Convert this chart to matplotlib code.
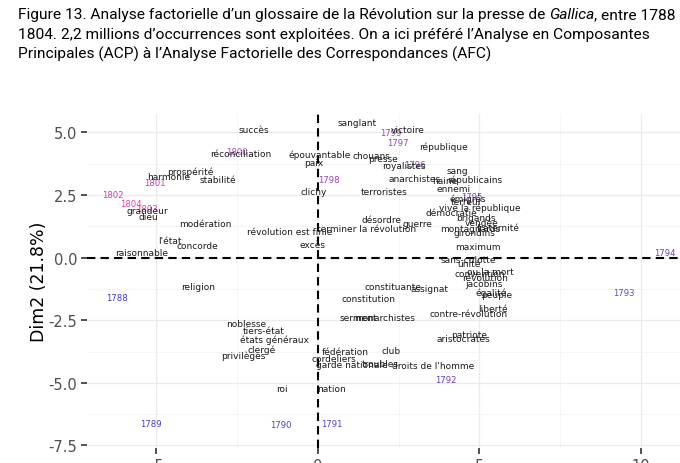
import numpy as np
import matplotlib
matplotlib.use("Agg")
import matplotlib.pyplot as plt
from matplotlib.colors import LinearSegmentedColormap

# mots du glossaire (coordonnees sur Dim1 / Dim2)
words = ["succès", "réconciliation", "épouvantable", "paix", "prospérité", "harmonie",
         "stabilité", "clichy", "grandeur", "dieu", "modération", "révolution est finie",
         "l'état", "concorde", "raisonnable", "excès", "sanglant", "victoire", "république",
         "chouans", "presse", "royalistes", "sang", "anarchistes", "haine", "républicains",
         "terroristes", "ennemi", "émigrés", "terreur", "vive la république", "démocratie",
         "brigands", "vendée", "fraternité", "montagnards", "girondins", "désordre", "guerre",
         "terminer la révolution", "maximum", "sans-culotte", "unité", "ou la mort",
         "convention", "révolution", "jacobins", "égalité", "peuple", "constituante",
         "assignat", "constitution", "liberté", "contre-révolution", "serment", "monarchistes",
         "patriote", "aristocrates", "fédération", "club", "cordeliers", "garde nationale",
         "troubles", "droits de l'homme", "nation", "religion", "noblesse", "tiers-état",
         "états généraux", "clergé", "privilèges", "roi"]
word_x = [-1.98, -2.39, 0.06, -0.12, -3.96, -4.62,
          -3.09, -0.12, -5.28, -5.25, -3.50, -0.88,
          -4.58, -3.72, -5.46, -0.17, 1.20, 2.77, 3.88,
          1.66, 2.00, 2.67, 4.31, 3.00, 3.94, 4.86,
          2.04, 4.21, 4.65, 4.60, 5.02, 4.14,
          4.88, 5.07, 5.58, 4.71, 4.86, 1.97, 3.07,
          1.51, 4.96, 4.65, 4.68, 5.35,
          5.02, 5.17, 5.14, 5.37, 5.53, 2.33,
          3.45, 1.56, 5.43, 4.65, 1.25, 2.07,
          4.68, 4.50, 0.86, 2.26, 0.50, 1.05,
          1.92, 3.57, 0.42, -3.71, -2.23, -1.69,
          -1.36, -1.74, -2.31, -1.12]
word_y = [5.10, 4.17, 4.14, 3.81, 3.43, 3.23,
          3.10, 2.63, 1.86, 1.64, 1.36, 1.04,
          0.68, 0.48, 0.22, 0.52, 5.40, 5.11, 4.44,
          4.07, 3.97, 3.67, 3.49, 3.15, 3.07, 3.14,
          2.63, 2.74, 2.37, 2.24, 2.00, 1.81,
          1.60, 1.41, 1.21, 1.15, 0.99, 1.50, 1.37,
          1.17, 0.44, -0.08, -0.25, -0.54,
          -0.65, -0.78, -1.02, -1.38, -1.49, -1.14,
          -1.25, -1.62, -2.05, -2.23, -2.41, -2.41,
          -3.08, -3.24, -3.74, -3.71, -4.04, -4.25,
          -4.24, -4.31, -5.24, -1.14, -2.62, -2.92,
          -3.24, -3.64, -3.88, -5.24]

# annees
years = [1788, 1789, 1790, 1791, 1792, 1793, 1794, 1795, 1796,
         1797, 1798, 1799, 1800, 1801, 1802, 1803, 1804]
year_x = [-6.21, -5.18, -1.15, 0.42, 3.95, 9.48, 10.74, 4.76, 3.00,
          2.49, 0.35, 2.25, -2.52, -5.05, -6.34, -5.30, -5.80]
year_y = [-1.60, -6.61, -6.66, -6.61, -4.87, -1.41, 0.19, 2.42, 3.70,
          4.58, 3.10, 4.98, 4.25, 2.98, 2.51, 1.97, 2.14]

title_lines = [
    "1804. 2,2 millions d’occurrences sont exploitées. On a ici préféré l’Analyse en Composantes",
    "Principales (ACP) à l’Analyse Factorielle des Correspondances (AFC)",
]

W, H = 680, 464
fig = plt.figure(figsize=(W / 100, H / 100), dpi=100)

# zone du graphique (le bas et la droite sont coupes comme dans l'original)
ax = fig.add_axes([87 / W, (H - 449) / H, 613 / W, 334 / H])

ax.set_xticks([-5, 0, 5, 10])
ax.set_xticklabels(["-5", "0", "5", "10"])
ax.set_yticks([-7.5, -5, -2.5, 0, 2.5, 5])
ax.set_yticklabels(["-7.5", "-5.0", "-2.5", "0.0", "2.5", "5.0"])
ax.set_xticks([-7.5, -2.5, 2.5, 7.5], minor=True)
ax.set_yticks([-6.25, -3.75, -1.25, 1.25, 3.75], minor=True)
# limites apres les ticks (set_ticks elargit la vue sinon)
ax.set_xlim(-7.15, 11.83)
ax.set_ylim(-7.6, 5.73)
ax.grid(which="major", color="#ebebeb", lw=0.9)
ax.grid(which="minor", color="#f2f2f2", lw=0.5)
ax.set_axisbelow(True)
ax.tick_params(which="major", length=4, width=1.2, color="#333333",
               labelsize=10.5, labelcolor="#4d4d4d", pad=3)
ax.tick_params(which="minor", length=0)
for s in ax.spines.values():
    s.set_visible(False)

ax.axhline(0, color="black", lw=1.5, dashes=(4, 2.5), zorder=1)
ax.axvline(0, color="black", lw=1.5, dashes=(4, 2.5), zorder=1)

cmap = LinearSegmentedColormap.from_list("annees", ["#3c3cc6", "#8a3cd2", "#e040a8"])
for i, y in enumerate(years):
    c = cmap((y - years[0]) / (years[-1] - years[0]))
    ax.text(year_x[i], year_y[i], str(y), color=c, fontsize=6.1,
            ha="center", va="center", zorder=3)

for i, w in enumerate(words):
    ax.text(word_x[i], word_y[i], w, color="#1a1a1a", fontsize=6.5,
            ha="center", va="center", zorder=4)

ax.set_ylabel("Dim2 (21.8%)", fontsize=12.5, color="black", labelpad=0.5)

# titre en Roboto, avec Gallica en italique
FS = 11.15
tx = 18 / W
t1 = fig.text(tx, 1 - 19 / H, "Figure 13. Analyse factorielle d’un glossaire de la Révolution sur la presse de",
              family="Roboto", fontsize=FS, va="baseline")
renderer = fig.canvas.get_renderer()
bb = t1.get_window_extent(renderer)
sp = fig.text(0, 0, "a a", family="Roboto", fontsize=FS)
sp2 = fig.text(0, 0, "aa", family="Roboto", fontsize=FS)
space = sp.get_window_extent(renderer).width - sp2.get_window_extent(renderer).width
sp.remove()
sp2.remove()
t2 = fig.text((bb.x1 + space) / W, 1 - 19 / H, "Gallica", family="Roboto", style="italic",
              fontsize=FS, va="baseline")
bb2 = t2.get_window_extent(renderer)
fig.text(bb2.x1 / W, 1 - 19 / H, ", entre 1788 et", family="Roboto",
         fontsize=FS, va="baseline")
for k, line in enumerate(title_lines):
    fig.text(tx, 1 - (39 + 20 * k) / H, line, family="Roboto", fontsize=FS, va="baseline")

fig.savefig("out.png", dpi=100)
